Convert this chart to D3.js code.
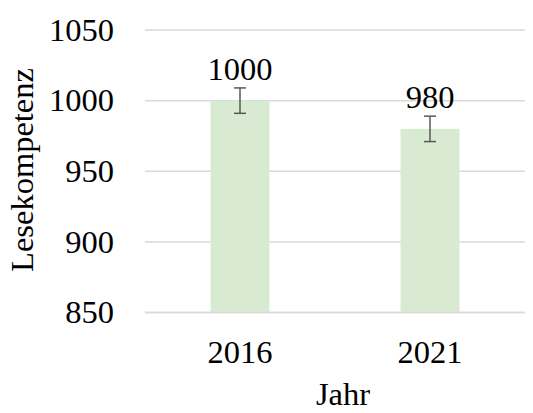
<!DOCTYPE html>
<html>
<head>
<meta charset="utf-8">
<script src="https://cdn.jsdelivr.net/npm/d3@7"></script>
<style>
  body { margin: 0; background: #fff; }
  text { font-family: "Liberation Serif", "DejaVu Serif", serif; fill: #000; }
</style>
</head>
<body>
<svg id="chart" width="533" height="413"></svg>
<script>
// data
const years = ['2016', '2021'];
const values = [1000, 980];
const errors = [9, 9];
const yTicks = [850, 900, 950, 1000, 1050];

const svg = d3.select('#chart');
const margin = { left: 145, right: 8, top: 30, bottom: 100 };
const W = 533, H = 413;
const fs = 32.5;

const x = d3.scaleBand()
  .domain(years)
  .range([margin.left, W - margin.right])
  .paddingInner(0.69)
  .paddingOuter(0.345);

const y = d3.scaleLinear()
  .domain([850, 1050])
  .range([312.5, 30]);

// gridlines
svg.append('g')
  .selectAll('line')
  .data(yTicks)
  .join('line')
  .attr('x1', margin.left)
  .attr('x2', W - margin.right)
  .attr('y1', d => y(d))
  .attr('y2', d => y(d))
  .attr('stroke', '#d9d9d9')
  .attr('stroke-width', 1.5);

// bars
svg.append('g')
  .selectAll('rect')
  .data(values)
  .join('rect')
  .attr('x', (d, i) => x(years[i]))
  .attr('width', x.bandwidth())
  .attr('y', d => y(d))
  .attr('height', d => y(850) - y(d))
  .attr('fill', '#d9ead3');

// redraw bottom axis line over bars
svg.append('line')
  .attr('x1', margin.left).attr('x2', W - margin.right)
  .attr('y1', y(850)).attr('y2', y(850))
  .attr('stroke', '#d9d9d9').attr('stroke-width', 1.5);

// error bars
const eb = svg.append('g').attr('stroke', '#595959').attr('stroke-width', 1.5);
values.forEach((v, i) => {
  const cx = x(years[i]) + x.bandwidth() / 2;
  eb.append('line').attr('x1', cx).attr('x2', cx).attr('y1', y(v + errors[i])).attr('y2', y(v - errors[i]));
  eb.append('line').attr('x1', cx - 6).attr('x2', cx + 6).attr('y1', y(v + errors[i])).attr('y2', y(v + errors[i]));
  eb.append('line').attr('x1', cx - 6).attr('x2', cx + 6).attr('y1', y(v - errors[i])).attr('y2', y(v - errors[i]));
});

// value labels
svg.append('g')
  .selectAll('text')
  .data(values)
  .join('text')
  .attr('x', (d, i) => x(years[i]) + x.bandwidth() / 2)
  .attr('y', (d, i) => y(d + errors[i]) - 8)
  .attr('text-anchor', 'middle')
  .attr('font-size', fs)
  .text(d => d);

// y tick labels
svg.append('g')
  .selectAll('text')
  .data(yTicks)
  .join('text')
  .attr('x', 114)
  .attr('y', d => y(d))
  .attr('dy', '0.33em')
  .attr('text-anchor', 'end')
  .attr('font-size', fs)
  .text(d => d);

// x tick labels
svg.append('g')
  .selectAll('text')
  .data(years)
  .join('text')
  .attr('x', d => x(d) + x.bandwidth() / 2)
  .attr('y', 363)
  .attr('text-anchor', 'middle')
  .attr('font-size', fs)
  .text(d => d);

// axis titles
svg.append('text')
  .attr('x', 343).attr('y', 405)
  .attr('text-anchor', 'middle')
  .attr('font-size', fs)
  .text('Jahr');

svg.append('text')
  .attr('transform', 'translate(33,170) rotate(-90)')
  .attr('text-anchor', 'middle')
  .attr('font-size', fs)
  .text('Lesekompetenz');
</script>
</body>
</html>
